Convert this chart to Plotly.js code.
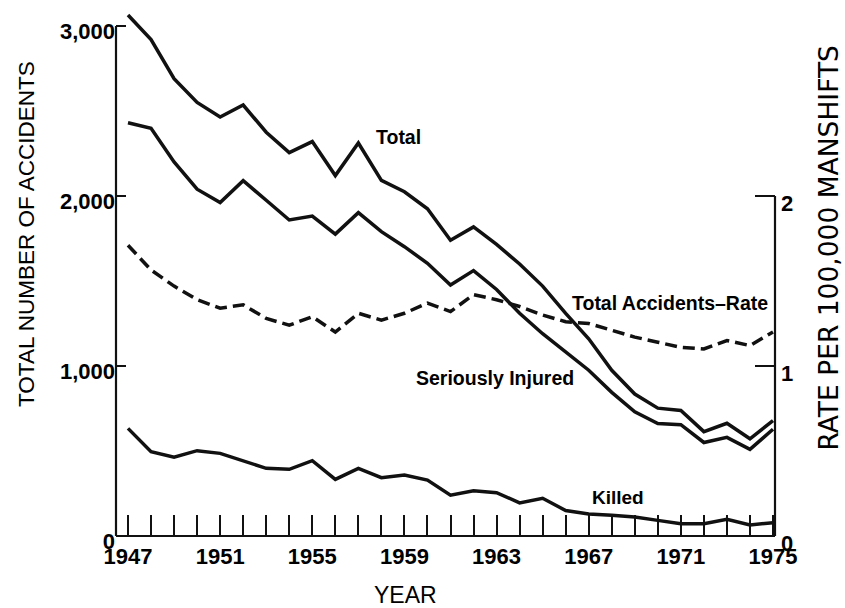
<!DOCTYPE html>
<html>
<head>
<meta charset="utf-8">
<script src="https://cdn.plot.ly/plotly-3.0.1.min.js"></script>
<style>html,body{margin:0;padding:0;background:#fff;}#chart{width:845px;height:608px;}</style>
</head>
<body>
<div id="chart"></div>
<script>
// ---- data ----
const years = [1947,1948,1949,1950,1951,1952,1953,1954,1955,1956,1957,1958,1959,1960,1961,1962,1963,1964,1965,1966,1967,1968,1969,1970,1971,1972,1973,1974,1975];
const total = [3065,2920,2690,2550,2465,2535,2375,2255,2320,2120,2312,2092,2025,1925,1740,1818,1715,1600,1470,1310,1160,975,835,752,738,614,663,572,678];
const seriouslyInjured = [2431,2398,2200,2040,1961,2090,1975,1859,1882,1776,1902,1790,1702,1604,1476,1561,1450,1310,1190,1080,975,845,730,662,655,550,580,510,628];
const killed = [633,496,463,502,486,440,398,392,443,333,398,343,359,329,240,266,255,195,222,150,130,122,112,92,72,72,98,65,78];
const rate = [1.71,1.565,1.47,1.39,1.34,1.36,1.28,1.24,1.29,1.20,1.31,1.27,1.31,1.37,1.32,1.42,1.39,1.35,1.30,1.26,1.25,1.21,1.17,1.14,1.11,1.10,1.15,1.12,1.20];
const labelYears = [1947,1951,1955,1959,1963,1967,1971,1975];
const leftTickVals = [0,1000,2000,3000];
const leftTickText = ['0','1,000','2,000','3,000'];
const rightTickVals = [0,1,2];
const rightTickText = ['0','1','2'];

const FONT = 'Liberation Sans, Arial, Helvetica, sans-serif';
const solid = {color:'#111', width:3.5};

const traces = [
  {x:years, y:total, type:'scatter', mode:'lines', line:solid, name:'Total'},
  {x:years, y:seriouslyInjured, type:'scatter', mode:'lines', line:solid, name:'Seriously Injured'},
  {x:years, y:killed, type:'scatter', mode:'lines', line:solid, name:'Killed'},
  {x:years, y:rate, type:'scatter', mode:'lines', yaxis:'y2', line:{color:'#111', width:3.5, dash:'12px,6px'}, name:'Total Accidents-Rate'}
];

const tickFont = {family:FONT, size:22, weight:'bold', color:'#000'};

const layout = {
  width:845, height:608,
  margin:{l:116, r:70, t:9, b:72},
  paper_bgcolor:'#fff', plot_bgcolor:'#fff',
  showlegend:false,
  xaxis:{
    range:[1946.479, 1975.087],
    tickvals:years,
    ticktext:years.map(y => labelYears.includes(y) ? String(y) : ''),
    ticks:'inside', ticklen:21, tickwidth:2, tickcolor:'#111',
    ticklabelstandoff:5,
    showgrid:false, zeroline:false, showline:false,
    tickfont:tickFont
  },
  yaxis:{
    range:[0,3100],
    tickvals:leftTickVals, ticktext:leftTickText,
    ticks:'inside', ticklen:10, tickwidth:2, tickcolor:'#111',
    ticklabelshift:5,
    showgrid:false, zeroline:false, showline:false,
    tickfont:tickFont
  },
  yaxis2:{
    range:[0,3.1], overlaying:'y', side:'right',
    tickvals:rightTickVals, ticktext:rightTickText,
    ticks:'inside', ticklen:20, tickwidth:2, tickcolor:'#111',
    ticklabelshift:7, ticklabelstandoff:5,
    showgrid:false, zeroline:false, showline:false,
    tickfont:tickFont
  },
  shapes:[
    {type:'line', xref:'paper', yref:'y', x0:0, x1:0, y0:0, y1:3000, line:{color:'#111', width:2.2}},
    {type:'line', xref:'paper', yref:'y2', x0:1, x1:1, y0:0, y1:2, line:{color:'#111', width:2.2}},
    {type:'line', xref:'paper', yref:'paper', x0:0, x1:1, y0:0, y1:0, line:{color:'#111', width:2.2}}
  ],
  annotations:[
    {text:'TOTAL NUMBER OF ACCIDENTS', xref:'paper', yref:'paper', x:-0.1366, y:0.573, textangle:-90, showarrow:false, xanchor:'center', yanchor:'middle', font:{family:FONT, size:22.5, color:'#000'}},
    {text:'RATE PER 100,000 MANSHIFTS', xref:'paper', yref:'paper', x:1.081, y:0.548, textangle:-90, showarrow:false, xanchor:'center', yanchor:'middle', font:{family:'DejaVu Sans, Verdana, sans-serif', size:26.5, color:'#000'}},
    {text:'YEAR', xref:'paper', yref:'paper', x:0.44, y:-0.112, showarrow:false, xanchor:'center', yanchor:'middle', font:{family:FONT, size:23, color:'#000'}},
    {text:'Total', xref:'paper', yref:'paper', x:0.428, y:0.757, showarrow:false, xanchor:'center', yanchor:'middle', font:{family:FONT, size:19.5, weight:'bold', color:'#000'}},
    {text:'Total Accidents\u2013Rate', xref:'paper', yref:'paper', x:0.8407, y:0.442, showarrow:false, xanchor:'center', yanchor:'middle', font:{family:FONT, size:19.5, weight:'bold', color:'#000'}},
    {text:'Seriously Injured', xref:'paper', yref:'paper', x:0.575, y:0.2998, showarrow:false, xanchor:'center', yanchor:'middle', font:{family:FONT, size:19.5, weight:'bold', color:'#000'}},
    {text:'Killed', xref:'paper', yref:'paper', x:0.7618, y:0.074, showarrow:false, xanchor:'center', yanchor:'middle', font:{family:FONT, size:19, weight:'bold', color:'#000'}}
  ]
};

Plotly.newPlot('chart', traces, layout, {displayModeBar:false, staticPlot:true});
</script>
</body>
</html>
